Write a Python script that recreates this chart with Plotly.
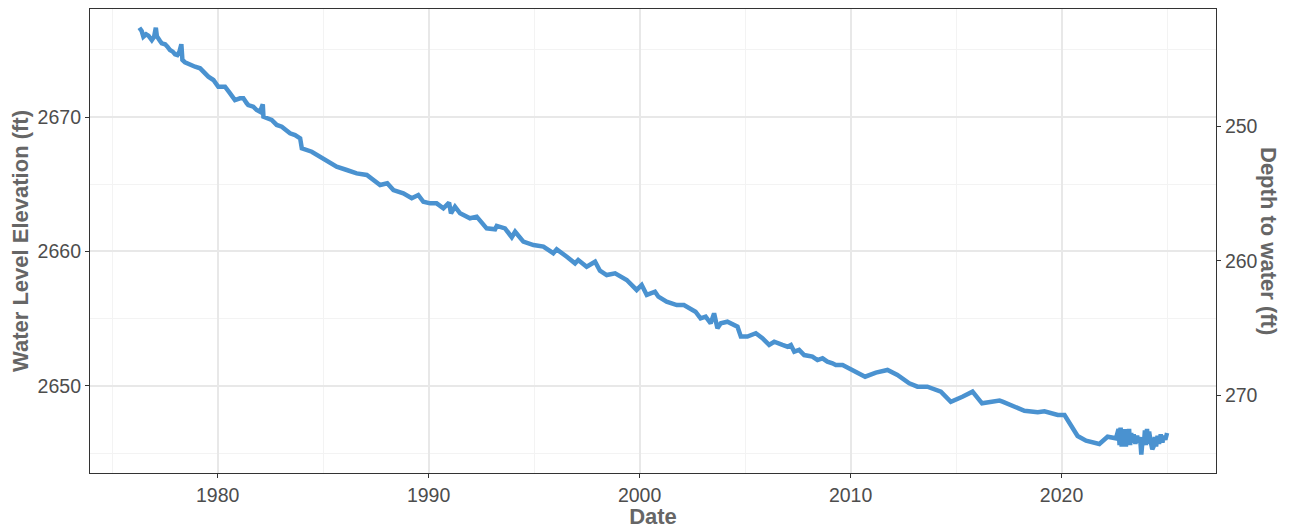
import plotly.graph_objects as go

# Decimal years and water level elevation (ft)
years = [
    1976.29, 1976.40, 1976.48, 1976.61, 1976.72, 1976.80, 1976.88, 1976.99, 1977.07, 1977.12,
    1977.16, 1977.27, 1977.35, 1977.51, 1977.62, 1977.74, 1977.87, 1977.98, 1978.09, 1978.19,
    1978.28, 1978.30, 1978.33, 1978.45, 1978.69, 1978.93, 1979.17, 1979.32, 1979.56, 1979.80,
    1980.03, 1980.19, 1980.35, 1980.59, 1980.82, 1981.06, 1981.22, 1981.38, 1981.45, 1981.69,
    1981.85, 1982.01, 1982.14, 1982.17, 1982.56, 1982.80, 1983.04, 1983.43, 1983.67, 1983.91,
    1983.99, 1984.46, 1985.01,
    1985.64, 1986.12, 1986.59, 1987.07, 1987.54, 1987.70, 1988.04, 1988.33, 1988.80, 1989.20,
    1989.51, 1989.75, 1990.07, 1990.38, 1990.70, 1990.97, 1991.06, 1991.25, 1991.49, 1991.96,
    1992.28, 1992.75, 1993.15, 1993.23, 1993.62, 1993.94, 1994.10, 1994.49, 1994.97, 1995.44,
    1995.91, 1996.07, 1996.55, 1996.94, 1997.09, 1997.49, 1997.89, 1998.12, 1998.44, 1998.84,
    1999.39, 1999.86, 2000.10, 2000.34, 2000.73, 2000.89, 2001.28, 2001.76, 2002.10, 2002.65,
    2002.89, 2003.13, 2003.37, 2003.53, 2003.69, 2003.85, 2004.16, 2004.64, 2004.80, 2005.11,
    2005.51, 2005.82, 2006.14, 2006.38, 2006.77, 2007.01, 2007.17, 2007.33, 2007.56, 2007.80,
    2008.19, 2008.43, 2008.67, 2008.90, 2009.14, 2009.30, 2009.62, 2010.09, 2010.69, 2011.20,
    2011.75, 2012.22, 2012.78, 2013.17, 2013.64, 2014.28, 2014.75, 2015.30, 2015.78, 2016.23,
    2017.06, 2017.20, 2017.77, 2018.24, 2018.87, 2019.19, 2019.82, 2020.14, 2020.76, 2021.16,
    2021.79, 2022.18, 2022.58, 2022.70, 2022.75, 2022.80, 2022.85, 2022.90, 2022.95, 2023.00,
    2023.05, 2023.10, 2023.15, 2023.20, 2023.25, 2023.30, 2023.35, 2023.42, 2023.50, 2023.58,
    2023.65, 2023.72, 2023.78, 2023.84, 2023.90, 2023.95, 2024.00, 2024.05, 2024.10, 2024.15,
    2024.22, 2024.30, 2024.36, 2024.42, 2024.48, 2024.55, 2024.62, 2024.70, 2024.78, 2024.85,
    2024.92, 2025.00,
]
elevation = [
    2676.64, 2676.39, 2675.97, 2676.15, 2676.05, 2675.85, 2675.72, 2675.97, 2676.64, 2676.00,
    2675.85, 2675.65, 2675.48, 2675.41, 2675.23, 2674.98, 2674.86, 2674.66, 2674.61, 2674.86,
    2675.41, 2674.61, 2674.24, 2674.07, 2673.87, 2673.74, 2673.62, 2673.37, 2673.00, 2672.75,
    2672.25, 2672.25, 2672.25, 2671.76, 2671.26, 2671.39, 2671.39, 2671.02, 2670.89, 2670.77,
    2670.52, 2670.39, 2670.94, 2670.02, 2669.78, 2669.41, 2669.28, 2668.79, 2668.66, 2668.42,
    2667.67, 2667.42, 2666.93,
    2666.30, 2666.06, 2665.81, 2665.69, 2665.19, 2664.94, 2665.07, 2664.57, 2664.33, 2663.96,
    2664.20, 2663.70, 2663.58, 2663.58, 2663.21, 2663.63, 2662.84, 2663.33, 2662.84, 2662.47,
    2662.59, 2661.72, 2661.65, 2661.90, 2661.72, 2661.06, 2661.47, 2660.73, 2660.48, 2660.36,
    2659.87, 2660.16, 2659.61, 2659.12, 2659.37, 2658.87, 2659.24, 2658.57, 2658.25, 2658.38,
    2657.88, 2657.14, 2657.51, 2656.77, 2657.01, 2656.64, 2656.27, 2656.02, 2656.02, 2655.52,
    2655.03, 2655.15, 2654.66, 2655.40, 2654.29, 2654.66, 2654.78, 2654.41, 2653.67, 2653.67,
    2653.92, 2653.55, 2653.05, 2653.29, 2653.05, 2652.92, 2653.05, 2652.55, 2652.68, 2652.30,
    2652.18, 2651.93, 2652.06, 2651.81, 2651.69, 2651.56, 2651.56, 2651.19, 2650.69, 2650.99,
    2651.19, 2650.82, 2650.20, 2649.95, 2649.95, 2649.58, 2648.83, 2649.20, 2649.58, 2648.71,
    2648.91, 2648.83, 2648.46, 2648.16, 2648.04, 2648.12, 2647.84, 2647.84, 2646.28, 2645.93,
    2645.69, 2646.23, 2646.11, 2646.80, 2645.60, 2646.90, 2645.50, 2646.70, 2645.60, 2646.80,
    2645.50, 2646.60, 2645.70, 2646.80, 2645.60, 2646.50, 2645.80, 2646.40, 2645.70, 2646.30,
    2645.80, 2646.20, 2644.90, 2646.00, 2645.60, 2646.70, 2645.60, 2646.80, 2645.70, 2646.60,
    2645.90, 2645.30, 2645.50, 2646.20, 2645.50, 2646.30, 2645.70, 2646.40, 2645.80, 2646.30,
    2646.00, 2646.50,
]

land_surface = 2919.3  # elevation + depth to water
depth = [round(land_surface - e, 2) for e in elevation]

x_ticks = [1980, 1990, 2000, 2010, 2020]
y_ticks = [2650, 2660, 2670]
y2_ticks = [250, 260, 270]

x_range = [1973.95, 2027.32]
y_range = [2643.53, 2678.03]

line_color = "#4A92D0"
text_gray = "#4D4D4D"
title_gray = "#666666"
border = "#333333"
FONT = "Liberation Sans, Arial, sans-serif"

fig = go.Figure()
fig.add_trace(go.Scatter(
    x=years, y=elevation, mode="lines",
    line=dict(color=line_color, width=4.5), showlegend=False,
))
fig.add_trace(go.Scatter(
    x=years, y=depth, mode="lines", yaxis="y2",
    line=dict(color=line_color, width=0), opacity=0,
    showlegend=False, hoverinfo="skip",
))

tick_font = dict(family=FONT, size=19.5, color=text_gray)
title_font = dict(family=FONT, size=22, color=title_gray)

fig.update_layout(
    width=1290, height=521,
    margin=dict(l=82, r=82, t=1, b=56),
    plot_bgcolor="white", paper_bgcolor="white",
    xaxis=dict(
        range=x_range, tickvals=x_ticks, ticktext=[str(v) for v in x_ticks],
        showline=True, linecolor=border, linewidth=1.2, mirror=True,
        ticks="outside", ticklen=4, tickcolor=border,
        showgrid=True, gridcolor="#E8E8E8", gridwidth=1.6,
        minor=dict(tickvals=[1975, 1985, 1995, 2005, 2015, 2025], showgrid=True,
                   gridcolor="#F3F3F3", gridwidth=1, ticks=""),
        zeroline=False, tickfont=tick_font,
        title=dict(text="<b>Date</b>", font=title_font, standoff=2),
        automargin=False,
    ),
    yaxis=dict(
        range=y_range, tickvals=y_ticks, ticktext=[str(v) for v in y_ticks],
        showline=True, linecolor=border, linewidth=1.2, mirror=True,
        ticks="outside", ticklen=4, tickcolor=border,
        showgrid=True, gridcolor="#E8E8E8", gridwidth=1.6,
        minor=dict(tickvals=[2645, 2655, 2665, 2675], showgrid=True,
                   gridcolor="#F3F3F3", gridwidth=1, ticks=""),
        zeroline=False, tickfont=tick_font,
        title=dict(text="<b>Water Level Elevation (ft)</b>", font=title_font, standoff=6),
        automargin=False,
    ),
    yaxis2=dict(
        overlaying="y", side="right",
        range=[land_surface - y_range[0], land_surface - y_range[1]],
        tickvals=y2_ticks, ticktext=[str(v) for v in y2_ticks],
        showgrid=False, zeroline=False, showline=False,
        ticks="outside", ticklen=4, tickcolor=border,
        tickfont=tick_font, automargin=False,
    ),
    annotations=[dict(
        text="<b>Depth to water (ft)</b>", textangle=90,
        xref="paper", yref="paper", x=1.0, y=0.5, xanchor="center", yanchor="middle",
        xshift=53, showarrow=False, font=title_font,
    )],
)

fig.write_html("out.html")
